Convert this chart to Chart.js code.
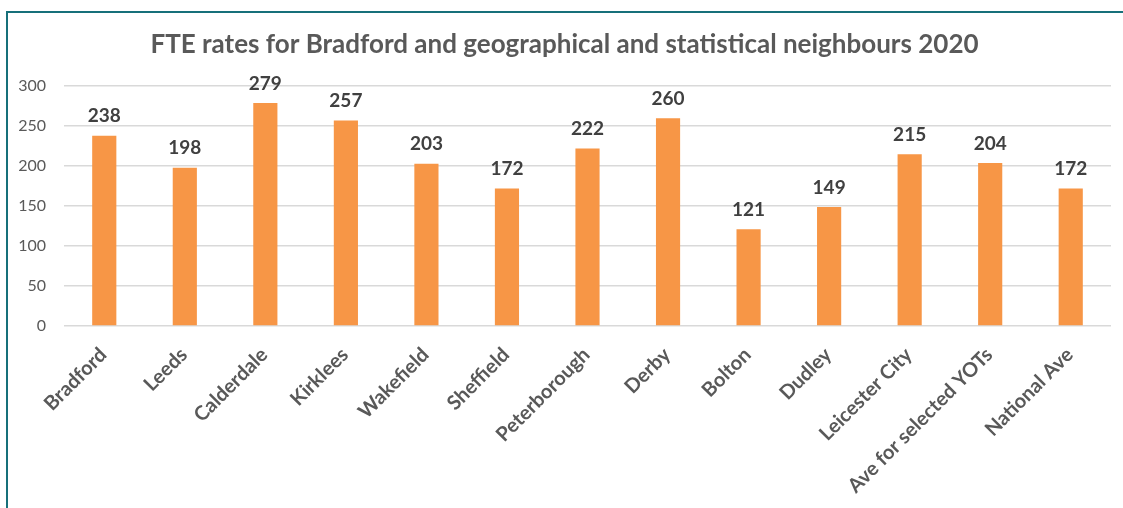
<!DOCTYPE html>
<html>
<head>
<meta charset="utf-8">
<script src="https://cdn.jsdelivr.net/npm/chart.js@4"></script>
<style>
    body { margin: 0; background: #fff; }
    #wrap { position: relative; width: 1123px; height: 508px; overflow: hidden; }
    #frame { position: absolute; left: 6px; top: 11px; width: 1200px; height: 600px;
             border-left: 2px solid #17707a; border-top: 2px solid #17707a; }
    canvas { position: absolute; left: 0; top: 0; }
</style>
</head>
<body>
<div id="wrap">
    <div id="frame"></div>
    <canvas id="fte-chart" width="1123" height="508"></canvas>
</div>
<script>
var areas = ["Bradford", "Leeds", "Calderdale", "Kirklees", "Wakefield", "Sheffield",
    "Peterborough", "Derby", "Bolton", "Dudley", "Leicester City",
    "Ave for selected YOTs", "National Ave"];
var fteRates = [238, 198, 279, 257, 203, 172, 222, 260, 121, 149, 215, 204, 172];
var yTicks = [0, 50, 100, 150, 200, 250, 300];

var fontName = "Lato, 'Open Sans', sans-serif";

// draws the value above each bar (no datalabels plugin available)
var valueLabels = {
    id: 'valueLabels',
    afterDatasetsDraw: function(chart) {
        var ctx = chart.ctx;
        var meta = chart.getDatasetMeta(0);
        ctx.save();
        ctx.font = "bold 19px " + fontName;
        ctx.fillStyle = "#404040";
        ctx.textAlign = "center";
        ctx.textBaseline = "bottom";
        meta.data.forEach(function(bar, i) {
            ctx.fillText(fteRates[i], bar.x, bar.y - 10);
        });
        ctx.restore();
    }
};

var fteData = {
    type: 'bar',
    data: {
        labels: areas,
        datasets: [{
            data: fteRates,
            backgroundColor: "#F79646",
            borderWidth: 0,
            barPercentage: 0.3,
            categoryPercentage: 1
        }]
    },
    options: {
        responsive: false,
        animation: false,
        layout: {
            padding: { left: 18, right: 12, top: 29, bottom: 0 }
        },
        plugins: {
            legend: { display: false },
            tooltip: { enabled: false },
            title: {
                display: true,
                text: "FTE rates for Bradford and geographical and statistical neighbours 2020",
                color: "#595959",
                font: { family: fontName, size: 26, weight: 'bold' },
                padding: { top: 0, bottom: 26 }
            }
        },
        scales: {
            x: {
                afterFit: function(axis) { axis.height = 182; },
                grid: { display: false, drawTicks: false },
                border: { display: false },
                ticks: {
                    color: "#595959",
                    font: { family: fontName, size: 20, weight: 'bold' },
                    minRotation: 45,
                    maxRotation: 45,
                    padding: 17,
                    labelOffset: -1,
                    autoSkip: false
                }
            },
            y: {
                min: 0,
                max: 300,
                afterFit: function(axis) { axis.width = 46; },
                afterBuildTicks: function(axis) {
                    axis.ticks = yTicks.map(function(v) { return { value: v }; });
                },
                grid: { color: "#d9d9d9", lineWidth: 1.5, drawTicks: false },
                border: { display: false },
                ticks: {
                    color: "#595959",
                    font: { family: fontName, size: 16 },
                    padding: 18
                }
            }
        }
    },
    plugins: [valueLabels]
};

var fteChart = document.getElementById("fte-chart").getContext("2d");
window.fteBar = new Chart(fteChart, fteData);
</script>
</body>
</html>
